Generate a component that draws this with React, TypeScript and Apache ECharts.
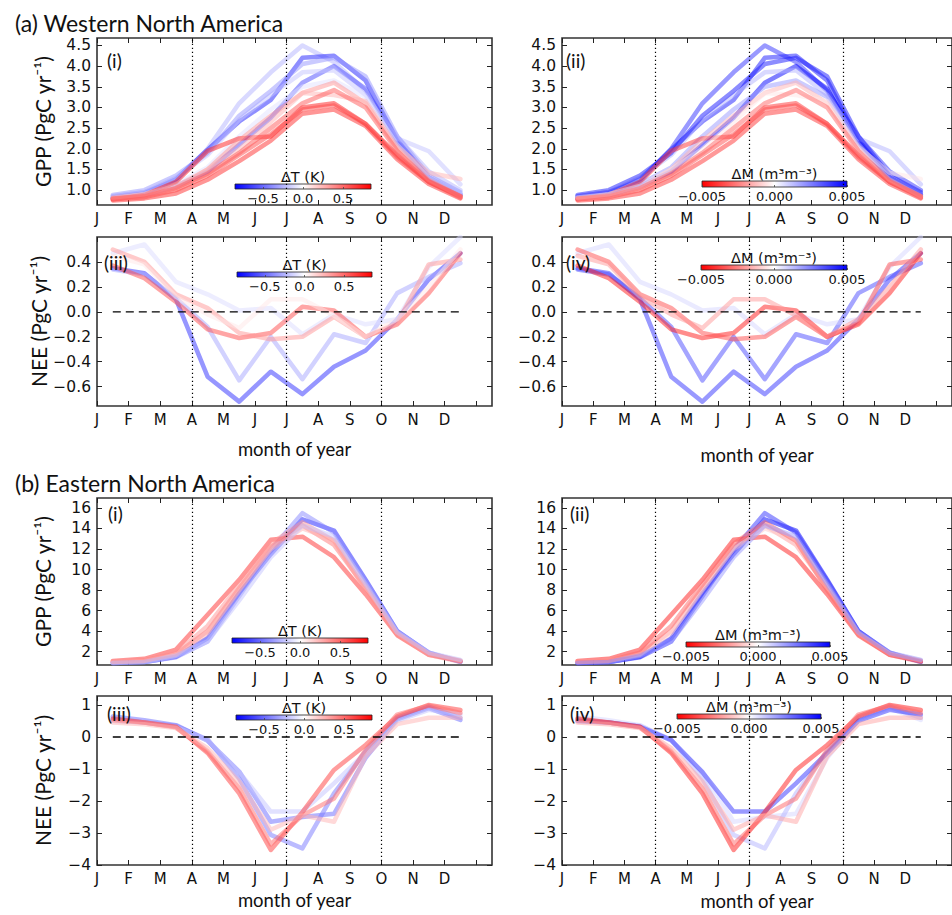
import React, { useEffect, useRef } from 'react';
import * as echarts from 'echarts';

// ---------- data ----------
const monthMid = [0.5, 1.5, 2.5, 3.5, 4.5, 5.5, 6.5, 7.5, 8.5, 9.5, 10.5, 11.5];
const monthTicks = [0, 1, 2, 3, 4, 5, 6, 7, 8, 9, 10, 11, 12];
const monthLabels = ['J', 'F', 'M', 'A', 'M', 'J', 'J', 'A', 'S', 'O', 'N', 'D'];
const seasonGuides = [3, 6, 9];

const westGppTicks = [1.0, 1.5, 2.0, 2.5, 3.0, 3.5, 4.0, 4.5];
const westNeeTicks = [-0.6, -0.4, -0.2, 0.0, 0.2, 0.4];
const eastGppTicks = [2, 4, 6, 8, 10, 12, 14, 16];
const eastNeeTicks = [-4, -3, -2, -1, 0, 1];
const dTTicks = [-0.5, 0.0, 0.5];
const dMTicks = [-0.005, 0.0, 0.005];

// Western North America GPP (PgC/yr), one row per ensemble member
const westGpp = [
  [0.85, 0.95, 1.22, 2.0, 3.1, 3.85, 4.5, 4.1, 3.4, 2.3, 1.45, 1.0],
  [0.82, 0.92, 1.26, 1.98, 2.66, 3.18, 4.2, 4.25, 3.65, 2.2, 1.3, 0.88],
  [0.8, 0.88, 1.1, 1.45, 2.1, 2.75, 3.6, 4.0, 3.45, 2.15, 1.3, 0.9],
  [0.85, 0.95, 1.3, 1.85, 2.7, 3.3, 3.85, 3.9, 3.3, 2.25, 1.94, 1.14],
  [0.88, 1.0, 1.35, 1.9, 2.8, 3.4, 4.05, 4.2, 3.75, 2.3, 1.35, 0.95],
  [0.8, 0.9, 1.15, 1.55, 2.3, 2.95, 3.5, 3.65, 3.25, 2.1, 1.3, 0.9],
  [0.78, 0.88, 1.2, 1.95, 2.25, 2.3, 3.0, 3.1, 2.6, 1.85, 1.2, 0.85],
  [0.75, 0.8, 0.92, 1.25, 1.7, 2.2, 2.85, 2.95, 2.55, 1.75, 1.15, 0.8],
  [0.78, 0.83, 1.0, 1.35, 1.85, 2.35, 2.95, 3.05, 2.6, 1.8, 1.2, 0.82],
  [0.8, 0.85, 1.05, 1.5, 2.2, 2.8, 3.35, 3.6, 3.1, 2.0, 1.25, 0.85],
  [0.82, 0.9, 1.1, 1.5, 2.0, 2.65, 3.35, 3.3, 3.15, 2.05, 1.42, 1.27],
  [0.8, 0.85, 1.05, 1.4, 1.9, 2.5, 3.1, 3.42, 3.0, 1.95, 1.22, 0.85],
];
const westGppDT = [-0.25, -0.75, -0.6, -0.2, -0.35, -0.1, 0.75, 0.7, 0.6, 0.35, 0.25, 0.55];
const westGppDM = [0.004, 0.0045, 0.005, 0.0015, 0.0045, 0.002, -0.004, -0.004, -0.0035, -0.0015, -0.0005, -0.003];

// Western North America NEE (PgC/yr)
const westNee = [
  [0.35, 0.31, 0.1, -0.52, -0.72, -0.48, -0.66, -0.44, -0.31, -0.06, 0.26, 0.47],
  [0.34, 0.3, 0.11, -0.12, -0.55, -0.2, -0.54, -0.18, -0.25, 0.15, 0.28, 0.39],
  [0.47, 0.54, 0.24, 0.14, 0.01, 0.03, -0.18, -0.02, -0.1, -0.06, 0.36, 0.6],
  [0.37, 0.27, 0.08, -0.14, -0.21, -0.17, 0.04, 0.01, -0.2, -0.1, 0.15, 0.47],
  [0.5, 0.4, 0.14, 0.03, -0.17, -0.22, -0.2, -0.04, -0.2, -0.09, 0.38, 0.42],
  [0.45, 0.38, 0.12, -0.02, -0.13, 0.1, 0.1, -0.03, -0.2, -0.06, 0.2, 0.5],
];
const westNeeDT = [-0.7, -0.3, -0.12, 0.6, 0.35, 0.08];
const westNeeDM = [0.004, 0.0035, 0.0008, -0.0045, -0.0035, -0.002];

// Eastern North America GPP (PgC/yr)
const eastGpp = [
  [0.9, 1.0, 1.5, 3.3, 7.7, 11.5, 14.9, 13.8, 9.0, 4.0, 1.9, 1.0],
  [0.9, 1.0, 1.45, 3.0, 7.4, 11.9, 15.5, 13.6, 8.9, 4.0, 1.8, 1.05],
  [1.1, 1.3, 2.2, 5.6, 9.0, 12.9, 13.2, 11.2, 7.6, 3.6, 1.7, 1.1],
  [1.0, 1.15, 1.8, 4.0, 8.2, 12.2, 14.3, 12.4, 8.2, 3.7, 1.8, 1.1],
  [1.0, 1.1, 1.7, 3.8, 8.0, 12.0, 14.0, 12.9, 8.4, 3.8, 1.8, 1.15],
  [1.0, 1.1, 1.9, 4.5, 8.5, 12.5, 14.6, 12.8, 8.0, 3.7, 1.7, 1.0],
  [0.9, 1.0, 1.6, 3.0, 7.0, 11.2, 14.3, 13.2, 8.6, 3.9, 1.9, 1.2],
];
const eastGppDT = [-0.75, -0.4, 0.7, 0.45, 0.25, 0.35, -0.2];
const eastGppDM = [0.005, 0.004, -0.0045, -0.002, -0.001, -0.003, 0.002];

// Eastern North America NEE (PgC/yr)
const eastNee = [
  [0.64, 0.52, 0.37, -0.12, -1.08, -2.65, -2.5, -2.4, -0.65, 0.55, 0.9, 0.53],
  [0.55, 0.45, 0.35, -0.08, -1.3, -3.06, -3.48, -1.76, -0.45, 0.6, 0.95, 0.6],
  [0.5, 0.45, 0.32, -0.1, -1.1, -2.33, -2.33, -1.45, -0.5, 0.5, 0.85, 0.7],
  [0.58, 0.45, 0.32, -0.5, -1.76, -3.53, -2.35, -1.03, -0.25, 0.64, 1.0, 0.84],
  [0.52, 0.45, 0.3, -0.45, -1.6, -3.35, -2.45, -1.92, -0.4, 0.7, 0.98, 0.75],
  [0.45, 0.4, 0.28, -0.35, -1.4, -2.9, -2.45, -2.65, -0.6, 0.4, 0.6, 0.6],
];
const eastNeeDT = [-0.5, -0.45, -0.2, 0.65, 0.5, 0.25];
const eastNeeDM = [0.0008, 0.0015, 0.004, -0.0045, -0.003, -0.0018];

// ---------- styling helpers ----------
const TICK_FONT = 'DejaVu Sans';
const TEXT_FONT = 'Lato';
const DT_RANGE = [-0.85, 0.85];
const DM_RANGE = [-0.005, 0.005];
const LINE_ALPHA = 0.5;

function bwr(t: number): string {
  const u = Math.max(0, Math.min(1, t));
  let r: number, g: number, b: number;
  if (u < 0.5) { r = 2 * u; g = 2 * u; b = 1; } else { r = 1; g = 2 * (1 - u); b = 2 * (1 - u); }
  return `rgba(${Math.round(r * 255)},${Math.round(g * 255)},${Math.round(b * 255)},${LINE_ALPHA})`;
}
const colorDT = (v: number) => bwr((v - DT_RANGE[0]) / (DT_RANGE[1] - DT_RANGE[0]));
const colorDM = (v: number) => bwr(1 - (v - DM_RANGE[0]) / (DM_RANGE[1] - DM_RANGE[0]));
const fmt = (v: number, d: number) => v.toFixed(d).replace('-', '\u2212');

const gradDT = { type: 'linear', x: 0, y: 0, x2: 1, y2: 0, colorStops: [
  { offset: 0, color: '#0000ff' }, { offset: 0.5, color: '#ffffff' }, { offset: 1, color: '#ff0000' }] };
const gradDM = { type: 'linear', x: 0, y: 0, x2: 1, y2: 0, colorStops: [
  { offset: 0, color: '#ff0000' }, { offset: 0.5, color: '#ffffff' }, { offset: 1, color: '#0000ff' }] };

type Panel = {
  box: [number, number, number, number];
  yMin: number; yMax: number; yTicks: number[]; yDigits: number;
  lines: number[][]; cvals: number[]; kind: 'dT' | 'dM';
  tag: string; tagPos: [number, number];
  yName?: string; xName?: string; xNameGap?: number; zero?: boolean;
  cbar: [number, number, number, number];
};

const panels: Panel[] = [
  { box: [97, 38, 395, 167], yMin: 0.64, yMax: 4.68, yTicks: westGppTicks, yDigits: 1, lines: westGpp, cvals: westGppDT, kind: 'dT',
    tag: '(i)', tagPos: [107, 60], yName: 'GPP (PgC yr\u207B\u00B9)', cbar: [235, 184, 136, 5] },
  { box: [562, 38, 395, 167], yMin: 0.64, yMax: 4.68, yTicks: westGppTicks, yDigits: 1, lines: westGpp, cvals: westGppDM, kind: 'dM',
    tag: '(ii)', tagPos: [566, 60], cbar: [702, 181, 145, 6] },
  { box: [97, 237, 395, 169], yMin: -0.755, yMax: 0.6, yTicks: westNeeTicks, yDigits: 1, lines: westNee, cvals: westNeeDT, kind: 'dT',
    tag: '(iii)', tagPos: [104, 262], yName: 'NEE (PgC yr\u207B\u00B9)', xName: 'month of year', xNameGap: 33, zero: true, cbar: [237, 272, 135, 5] },
  { box: [562, 237, 395, 169], yMin: -0.755, yMax: 0.6, yTicks: westNeeTicks, yDigits: 1, lines: westNee, cvals: westNeeDM, kind: 'dM',
    tag: '(iv)', tagPos: [566, 262], xName: 'month of year', xNameGap: 39, zero: true, cbar: [701, 265, 146, 5] },
  { box: [97, 498, 395, 167], yMin: 0.7, yMax: 16.97, yTicks: eastGppTicks, yDigits: 0, lines: eastGpp, cvals: eastGppDT, kind: 'dT',
    tag: '(i)', tagPos: [108, 513], yName: 'GPP (PgC yr\u207B\u00B9)', cbar: [232, 638, 136, 5] },
  { box: [562, 498, 395, 167], yMin: 0.7, yMax: 16.97, yTicks: eastGppTicks, yDigits: 0, lines: eastGpp, cvals: eastGppDM, kind: 'dM',
    tag: '(ii)', tagPos: [570, 513], cbar: [686, 642, 144, 5] },
  { box: [97, 696, 395, 169], yMin: -4, yMax: 1.28, yTicks: eastNeeTicks, yDigits: 0, lines: eastNee, cvals: eastNeeDT, kind: 'dT',
    tag: '(iii)', tagPos: [107, 713], yName: 'NEE (PgC yr\u207B\u00B9)', xName: 'month of year', xNameGap: 25, zero: true, cbar: [236, 715, 136, 5] },
  { box: [562, 696, 395, 169], yMin: -4, yMax: 1.28, yTicks: eastNeeTicks, yDigits: 0, lines: eastNee, cvals: eastNeeDM, kind: 'dM',
    tag: '(iv)', tagPos: [570, 713], xName: 'month of year', xNameGap: 26, zero: true, cbar: [677, 714, 144, 5] },
];

function buildOption() {
  const grid: any[] = [];
  const xAxis: any[] = [];
  const yAxis: any[] = [];
  const series: any[] = [];
  const graphic: any[] = [];
  const tickStyle = { color: '#222', width: 1 };
  const hiddenLine = { show: false, onZero: false };

  panels.forEach((p) => {
    const gi = grid.length;
    grid.push({ left: p.box[0], top: p.box[1], width: p.box[2], height: p.box[3], show: true,
      borderColor: '#333', borderWidth: 1.6, backgroundColor: 'transparent' });
    const xi = xAxis.length;
    xAxis.push({
      gridIndex: gi, type: 'value', position: 'bottom', min: 0, max: 12.5,
      axisLine: hiddenLine, splitLine: { show: false },
      axisTick: { show: true, inside: true, length: 5, customValues: monthTicks, lineStyle: tickStyle },
      axisLabel: { show: true, customValues: monthLabels.map((_, i) => monthTicks[i]), margin: 6,
        formatter: (v: number) => monthLabels[Math.round(v)] ?? '', fontFamily: TICK_FONT, fontSize: 15, color: '#111' },
      name: p.xName, nameLocation: 'middle', nameGap: p.xNameGap,
      nameTextStyle: { fontFamily: TEXT_FONT, fontSize: 18.5, color: '#111' },
    });
    xAxis.push({
      gridIndex: gi, type: 'value', position: 'top', min: 0, max: 12.5,
      axisLine: hiddenLine, splitLine: { show: false }, axisLabel: { show: false },
      axisTick: { show: true, inside: true, length: 5, customValues: monthTicks, lineStyle: tickStyle },
    });
    const yi = yAxis.length;
    yAxis.push({
      gridIndex: gi, type: 'value', position: 'left', min: p.yMin, max: p.yMax,
      axisLine: hiddenLine, splitLine: { show: false },
      axisTick: { show: true, inside: true, length: 5, customValues: p.yTicks, lineStyle: tickStyle },
      axisLabel: { show: true, customValues: p.yTicks, margin: 6, formatter: (v: number) => fmt(v, p.yDigits),
        fontFamily: TICK_FONT, fontSize: 15.5, color: '#111' },
      name: p.yName, nameLocation: 'middle', nameRotate: 90, nameGap: 44,
      nameTextStyle: { fontFamily: TEXT_FONT, fontSize: 21, color: '#111' },
    });
    yAxis.push({
      gridIndex: gi, type: 'value', position: 'right', min: p.yMin, max: p.yMax,
      axisLine: hiddenLine, splitLine: { show: false }, axisLabel: { show: false },
      axisTick: { show: true, inside: true, length: 5, customValues: p.yTicks, lineStyle: tickStyle },
    });

    p.lines.forEach((vals, j) => {
      const c = p.kind === 'dT' ? colorDT(p.cvals[j]) : colorDM(p.cvals[j]);
      series.push({
        type: 'line', xAxisIndex: xi, yAxisIndex: yi, silent: true, symbol: 'none', showSymbol: false,
        data: monthMid.map((m, k) => [m, vals[k]]),
        lineStyle: { width: 4.5, color: c, join: 'round', cap: 'round' }, itemStyle: { color: c }, z: 2,
      });
    });
    series.push({
      type: 'line', xAxisIndex: xi, yAxisIndex: yi, silent: true, symbol: 'none', showSymbol: false,
      data: p.zero ? [[monthMid[0], 0], [monthMid[monthMid.length - 1], 0]] : [],
      lineStyle: { width: 1.4, color: '#000', type: [8, 5] }, z: 3,
      markLine: {
        silent: true, symbol: ['none', 'none'], label: { show: false },
        lineStyle: { type: [1.2, 2.8], color: '#000', width: 1.2 },
        data: seasonGuides.map((g) => ({ xAxis: g })),
      },
    });

    // colour bar
    const cg = grid.length;
    const isT = p.kind === 'dT';
    const rng = isT ? DT_RANGE : DM_RANGE;
    const ticks = isT ? dTTicks : dMTicks;
    grid.push({ left: p.cbar[0], top: p.cbar[1], width: p.cbar[2], height: p.cbar[3], show: true,
      borderColor: '#222', borderWidth: 0.8, backgroundColor: isT ? gradDT : gradDM, z: 5 });
    xAxis.push({
      gridIndex: cg, type: 'value', position: 'bottom', min: rng[0], max: rng[1], z: 6,
      axisLine: hiddenLine, splitLine: { show: false },
      axisTick: { show: true, inside: true, length: 2, customValues: ticks, lineStyle: { color: '#444', width: 0.8 } },
      axisLabel: { show: true, customValues: ticks, margin: 3, formatter: (v: number) => fmt(v, isT ? 1 : 3),
        fontFamily: TICK_FONT, fontSize: 13, color: '#111' },
    });
    xAxis.push({
      gridIndex: cg, type: 'value', position: 'top', min: rng[0], max: rng[1], z: 6,
      axisLine: hiddenLine, splitLine: { show: false }, axisTick: { show: false }, axisLabel: { show: false },
      name: isT ? '\u0394T (K)' : '\u0394M (m\u00B3m\u207B\u00B3)', nameLocation: 'middle', nameGap: 0,
      nameTextStyle: { fontFamily: TICK_FONT, fontSize: 14.5, color: '#111' },
    });
    yAxis.push({ gridIndex: cg, type: 'value', min: 0, max: 1, show: false });

    graphic.push({ type: 'text', x: p.tagPos[0], y: p.tagPos[1], z: 20,
      style: { text: p.tag, fontFamily: TEXT_FONT, fontSize: 19, fill: '#111', verticalAlign: 'middle' } });
  });

  return {
    animation: false,
    backgroundColor: '#ffffff',
    title: [
      { text: '(a) Western North America', left: 10, top: 6, textStyle: { fontFamily: TEXT_FONT, fontSize: 23, fontWeight: 'normal', color: '#111' } },
      { text: '(b) Eastern North America', left: 10, top: 466, textStyle: { fontFamily: TEXT_FONT, fontSize: 23, fontWeight: 'normal', color: '#111' } },
    ],
    grid, xAxis, yAxis, series, graphic,
  };
}

export default function App() {
  const ref = useRef<HTMLDivElement>(null);
  useEffect(() => {
    if (!ref.current) return;
    const chart = echarts.init(ref.current, undefined, { renderer: 'svg' });
    chart.setOption(buildOption() as any);
    return () => chart.dispose();
  }, []);
  return (
    <div ref={ref} style={{ position: 'absolute', left: 0, top: 0, width: 952, height: 915, overflow: 'hidden' }} />
  );
}
